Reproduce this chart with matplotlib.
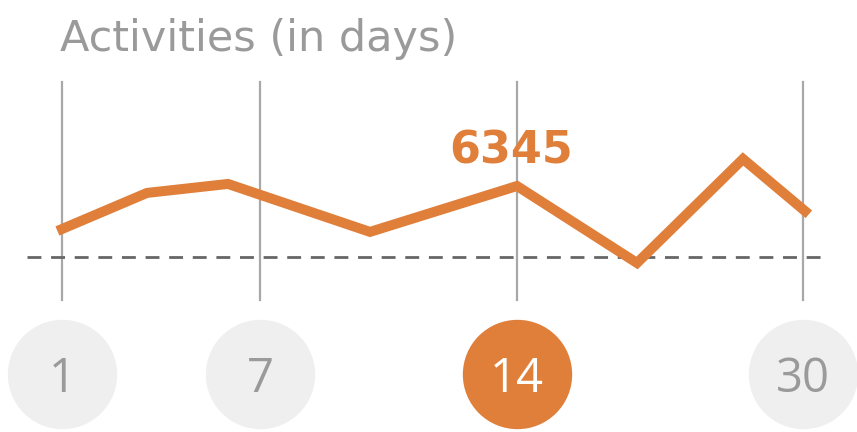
import matplotlib
matplotlib.use("Agg")
import matplotlib.pyplot as plt
import matplotlib.transforms as mtransforms

# activity line: horizontal slot positions and values
point_x = [62, 147, 228, 370, 517, 637, 743, 805]
activities = [3950, 5960, 6460, 3790, 6345, 2060, 7850, 4950]
average = 2390

# day markers
day_labels = ["1", "7", "14", "30"]
day_x = [62, 260, 517, 803]
selected_day = "14"
highlight_value = 6345

ORANGE = "#e07f3a"
GREY_TEXT = "#9a9a9a"

fig = plt.figure(figsize=(8.57, 4.32), dpi=100)
ax = fig.add_axes([0, 0, 1, 1])
ax.set_xlim(0, 857)
ax.set_ylim(-7350, 16700)
ax.axis("off")

# vertical day guides
for x in day_x:
    ax.axvline(x, ymin=0.306, ymax=0.81, color="#a8a8a8", lw=1.6, zorder=1)

# average line
ax.hlines(average, 27, 827, colors="#666666", lw=2.0, linestyles=(0, (5, 3.5)), zorder=2)

ax.plot(point_x, activities, color=ORANGE, lw=7.2, solid_joinstyle="miter", zorder=3)

# highlighted value label
idx = activities.index(highlight_value)
ax.annotate(str(highlight_value), (point_x[idx], highlight_value), xytext=(-4, 25),
            textcoords="offset points", ha="center", va="center", color=ORANGE,
            fontsize=32, fontweight="bold", family="DejaVu Sans")

# day bubbles
trans = mtransforms.blended_transform_factory(ax.transData, ax.transAxes)
for lab, x in zip(day_labels, day_x):
    sel = lab == selected_day
    ax.scatter([x], [0.135], s=6200, color=ORANGE if sel else "#efefef",
               transform=trans, zorder=4, linewidths=0)
    ax.text(x, 0.135, lab, transform=trans, ha="center", va="center_baseline",
            fontsize=34, color="white" if sel else GREY_TEXT,
            family="Open Sans", zorder=5)

fig.text(60 / 857, 1 - 39 / 432, "Activities (in days)", ha="left", va="center",
         fontsize=31, color=GREY_TEXT, family="DejaVu Sans")

fig.savefig("out.png", dpi=100)
plt.close(fig)
